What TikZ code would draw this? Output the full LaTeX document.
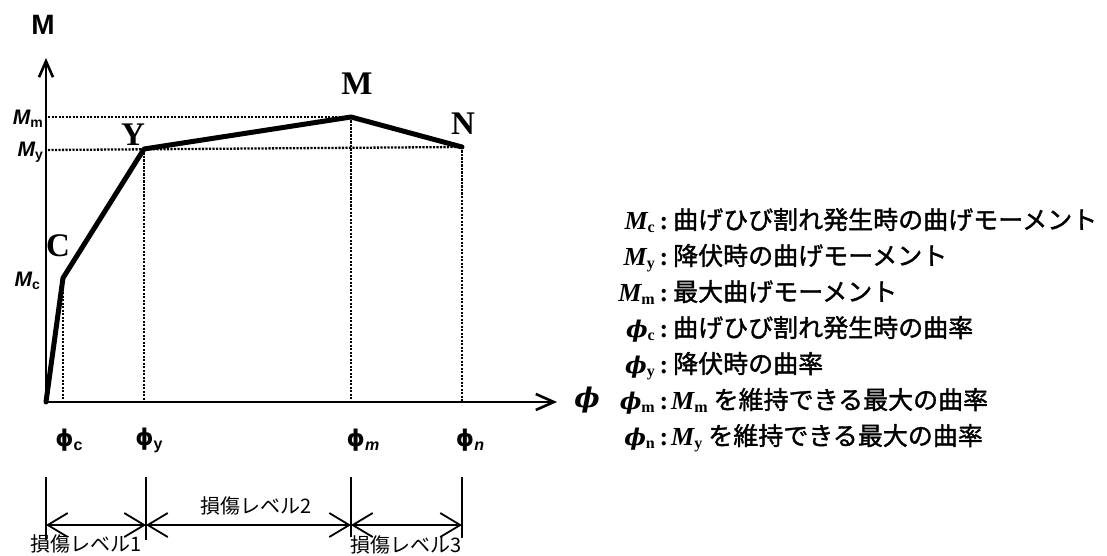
\documentclass[tikz,border=0pt]{standalone}
\usepackage{fontspec}
\setmainfont{Liberation Serif}
\setsansfont{Liberation Sans}
\newfontfamily\cjk{Noto Sans CJK JP}
\newfontfamily\cjkb[FakeBold=1.4]{Noto Sans CJK JP}
\newfontfamily\dvs{DejaVu Serif}
\newfontfamily\dvss{DejaVu Sans}
\usetikzlibrary{arrows.meta}
\newcommand{\fs}[1]{\fontsize{#1}{#1}\selectfont}
\newcommand{\lowsub}[2]{\raisebox{-#1}{#2}}
\newcommand{\legM}[1]{{\fs{26}\bfseries\itshape M}\lowsub{3pt}{\fs{16}\bfseries #1}}
\newcommand{\legP}[1]{{\fs{23}\dvs\bfseries\itshape ϕ}\lowsub{3pt}{\fs{16}\bfseries #1}}
\newcommand{\axM}[1]{{\fs{21}\sffamily\bfseries\itshape M}\lowsub{3pt}{\fs{14}\sffamily\bfseries #1}}
\newcommand{\axP}[1]{{\fs{23}\dvss\bfseries ϕ}\lowsub{4pt}{\fs{16}\sffamily\bfseries #1}}
\begin{document}
\begin{tikzpicture}[x=1pt,y=-1pt,
  curve/.style={line width=5pt, line join=round, line cap=round},
  axis/.style={line width=2.6pt},
  dotline/.style={line width=2.3pt, dash pattern=on 2.2pt off 1.3pt},
  dimline/.style={line width=1.8pt},
  dimtip/.tip={Straight Barb[length=20pt,width=24pt]},
  ptlabel/.style={font=\fs{33}\bfseries, inner sep=0pt},
  ticklab/.style={inner sep=0pt, anchor=center},
  lvl/.style={font=\fs{20}\cjk, inner sep=0pt, anchor=center},
  legl/.style={inner sep=0pt, anchor=base east},
  legt/.style={inner sep=0pt, anchor=base west, font=\fs{25}\cjkb}
]
\fill[white] (0,0) rectangle (1107,556);
\useasboundingbox (0,0) rectangle (1107,556);

% key points
\coordinate (O) at (46,402);
\coordinate (C) at (63,278);
\coordinate (Y) at (144,149);
\coordinate (Mp) at (351,117);
\coordinate (N) at (462,147);
\coordinate (Ytop) at (46,58);
\coordinate (Xend) at (557,402);
\coordinate (Cf) at (63,402);
\coordinate (Yf) at (144,402);
\coordinate (Mf) at (351,402);
\coordinate (Nf) at (462,402);
\coordinate (Lm) at (48,117);
\coordinate (Ly) at (48,150);

% dotted guide lines
\draw[dotline] (Lm) -- (Mp);
\draw[dotline] (Ly) -- (N);
\draw[dotline] (C) -- (Cf);
\draw[dotline] (Y) -- (Yf);
\draw[dotline] (Mp) -- (Mf);
\draw[dotline] (N) -- (Nf);

% axes
\draw[axis,-{Straight Barb[length=16pt,width=14pt]}] (O) -- (Ytop);
\draw[axis,-{Straight Barb[length=18pt,width=16pt]}] (O) -- (Xend);

% curve
\draw[curve] (O) -- (C) -- (Y) -- (Mp) -- (N);

% point labels
\node[ptlabel] (labC) at (58,246) {C};
\node[ptlabel] (labY) at (133,135) {Y};
\node[ptlabel] (labM) at (357,84) {M};
\node[ptlabel] (labN) at (463,124) {N};

% axis labels
\node[inner sep=0pt, font=\fs{28}\sffamily\bfseries] (axisM) at (43,25) {M};
\node[inner sep=0pt, font=\fs{27}\dvs\bfseries\itshape] (axisPhi) at (587,400) {ϕ};
\node[inner sep=0pt, anchor=base east] (lMm) at (43,125) {\axM{m}};
\node[inner sep=0pt, anchor=base east] (lMy) at (43,157) {\axM{y}};
\node[inner sep=0pt, anchor=base east] (lMc) at (40,286) {\axM{c}};

\node[ticklab] (tc) at (69,440) {\axP{c}};
\node[ticklab] (ty) at (149,440) {\axP{y}};
\node[ticklab] (tm) at (363,440) {\axP{\itshape m}};
\node[ticklab] (tn) at (470,440) {\axP{\itshape n}};

% damage levels
\coordinate (B1) at (46,477);  \coordinate (B1b) at (46,540);
\coordinate (B2) at (146,477); \coordinate (B2b) at (146,540);
\coordinate (B3) at (351,477); \coordinate (B3b) at (351,537);
\coordinate (B4) at (462,477); \coordinate (B4b) at (462,538);
\coordinate (A1) at (46,525);
\coordinate (A2) at (146,525);
\coordinate (A3) at (351,525);
\coordinate (A4) at (462,525);
\draw[dimline] (B1) -- (B1b);
\draw[dimline] (B2) -- (B2b);
\draw[dimline] (B3) -- (B3b);
\draw[dimline] (B4) -- (B4b);
\draw[dimline,dimtip-dimtip] (A1) -- (A2);
\draw[dimline,dimtip-dimtip] (A2) -- (A3);
\draw[dimline,dimtip-dimtip] (A3) -- (A4);
\node[lvl] (lv1) at (86,544) {損傷レベル1};
\node[lvl] (lv2) at (256,506) {損傷レベル2};
\node[lvl] (lv3) at (406,545) {損傷レベル3};

% legend
\node[legl] (k1) at (655,229) {\legM{c}};
\node[legt] (t1) at (655,229) {{\fs{26}\rmfamily\bfseries\,:}\hspace{5pt}曲げひび割れ発生時の曲げモーメント};
\node[legl] (k2) at (655,265) {\legM{y}};
\node[legt] (t2) at (655,265) {{\fs{26}\rmfamily\bfseries\,:}\hspace{5pt}降伏時の曲げモーメント};
\node[legl] (k3) at (655,301) {\legM{m}};
\node[legt] (t3) at (655,301) {{\fs{26}\rmfamily\bfseries\,:}\hspace{5pt}最大曲げモーメント};
\node[legl] (k4) at (655,337) {\legP{c}};
\node[legt] (t4) at (655,337) {{\fs{26}\rmfamily\bfseries\,:}\hspace{5pt}曲げひび割れ発生時の曲率};
\node[legl] (k5) at (655,373) {\legP{y}};
\node[legt] (t5) at (655,373) {{\fs{26}\rmfamily\bfseries\,:}\hspace{5pt}降伏時の曲率};
\node[legl] (k6) at (655,409) {\legP{m}};
\node[legt] (t6) at (655,409) {{\fs{26}\rmfamily\bfseries\,:}\hspace{3pt}{\rmfamily\legM{m}}\hspace{6pt}を維持できる最大の曲率};
\node[legl] (k7) at (655,445) {\legP{n}};
\node[legt] (t7) at (655,445) {{\fs{26}\rmfamily\bfseries\,:}\hspace{3pt}{\rmfamily\legM{y}}\hspace{6pt}を維持できる最大の曲率};
\end{tikzpicture}
\end{document}
